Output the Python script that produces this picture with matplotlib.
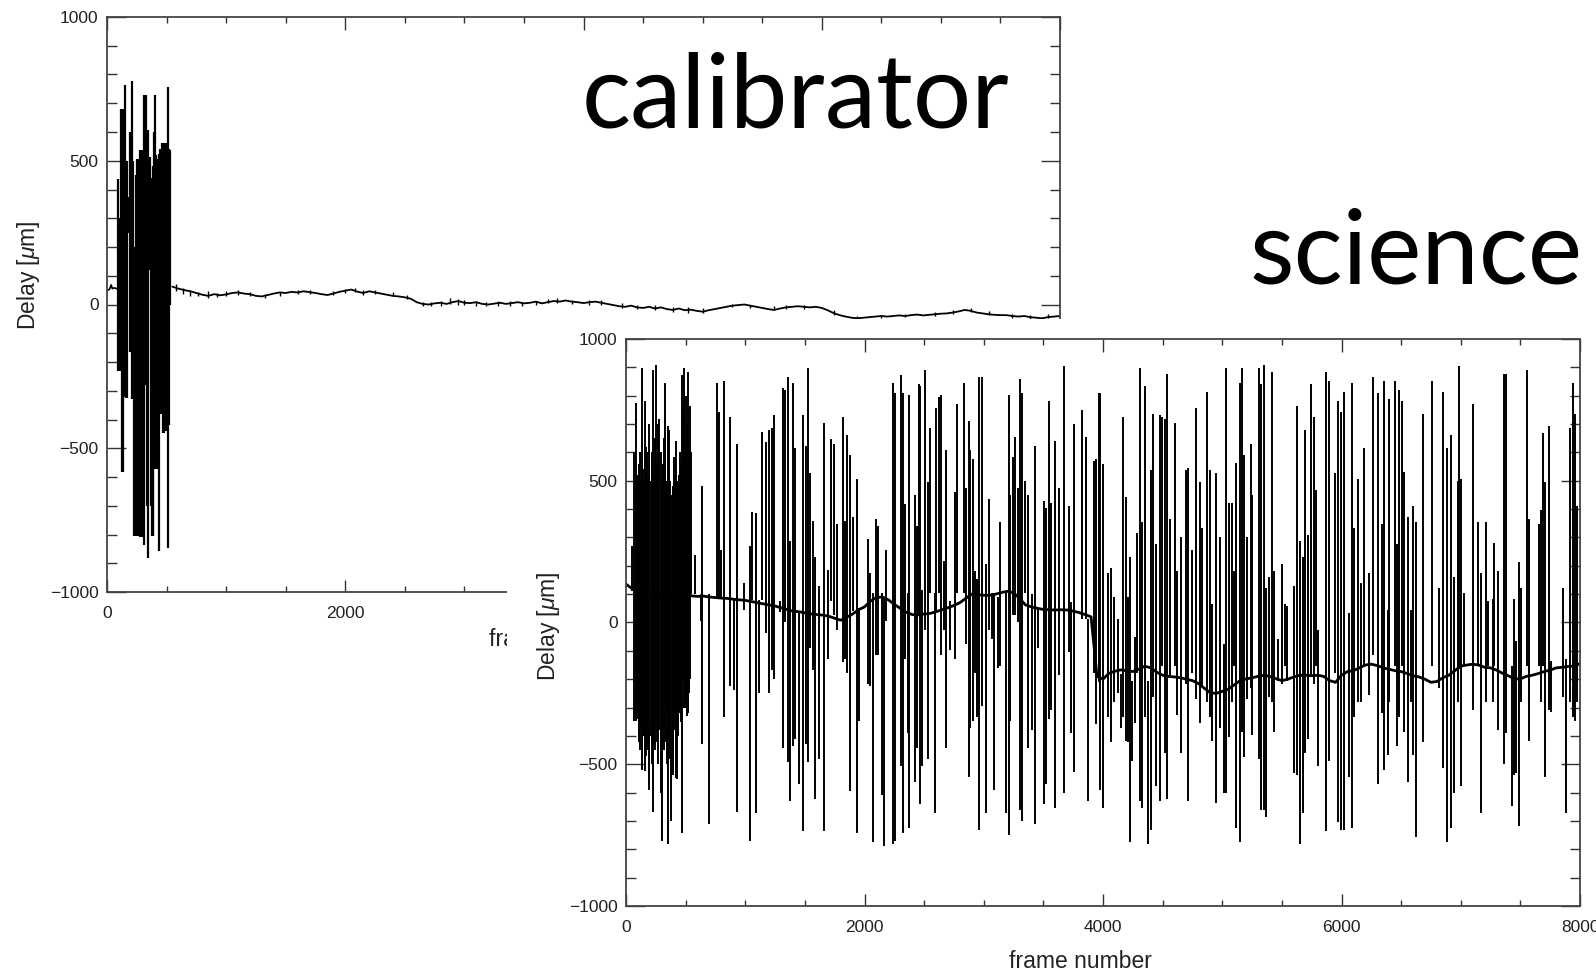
import numpy as np
import matplotlib
matplotlib.use('Agg')
import matplotlib.pyplot as plt
from matplotlib.patches import Rectangle
from matplotlib.ticker import MultipleLocator

plt.rcParams['font.family'] = ['Liberation Sans', 'DejaVu Sans']
plt.rcParams['mathtext.fontset'] = 'custom'
plt.rcParams['mathtext.it'] = 'Liberation Sans:italic'
plt.rcParams['mathtext.rm'] = 'Liberation Sans'

# ---------------- calibrator data ----------------
calib_head_frames = [0, 20, 35, 45, 60, 80, 95]
calib_head_vals = [50, 52, 68, 55, 58, 55, 57]

# burst of fringe-search jumps: (frame, top, bottom)
calib_burst = [
    (95, 435, -230), (105, 300, -230), (114, 680, -230), (122, 450, -583),
    (131, 680, -583), (141, 500, -320), (151, 764, -320), (158, 500, -325),
    (165, 500, -325), (176, 375, 250), (187, 375, 250), (197, 600, -164),
    (207, 776, -164), (214, 500, -330), (221, 500, -330), (228, 200, -805),
    (235, -380, -805), (242, 450, -805), (249, 507, -805), (260, 300, -300),
    (271, 507, -805), (281, 537, -810), (291, 537, -810), (300, 450, -600),
    (310, 728, -835), (318, 600, -280), (327, 728, -280), (337, 550, -700),
    (347, 608, -883), (354, 513, 120), (361, 513, 120), (368, 440, -700),
    (375, 440, -805), (382, 480, -805), (389, 440, -805), (396, 600, -571),
    (403, 728, -571), (410, 520, -571), (417, 507, -571), (424, 400, -500),
    (430, 300, -500), (439, 525, -859), (449, 540, -380), (459, 561, -380),
    (468, 561, -446), (478, 561, -446), (486, 561, -440), (495, 561, -440),
    (505, 560, -440), (515, 758, -847), (522, 540, -420), (529, 537, -2),
]

calib_tail_frames = np.arange(550, 8001, 50)
calib_tail_vals = [
    62, 55, 50, 46, 40, 34, 30, 36, 32, 35,
    40, 42, 38, 36, 30, 28, 33, 38, 42, 40,
    44, 42, 46, 43, 40, 36, 33, 38, 44, 48,
    52, 45, 40, 46, 42, 38, 34, 30, 28, 25,
    20, 8, 2, 0, 4, 6, 2, 8, 12, 6,
    5, 8, 2, 0, 3, 6, 2, 5, 8, 4,
    6, 10, 4, 8, 12, 10, 14, 10, 8, 5,
    8, 10, 6, 2, -2, -6, -8, -4, -10, -12,
    -8, -14, -10, -16, -19, -14, -20, -18, -22, -25,
    -20, -16, -12, -8, -4, -2, 0, -4, -8, -12,
    -16, -19, -14, -10, -8, -6, -8, -10, -8, -12,
    -20, -30, -37, -42, -46, -48, -46, -44, -42, -40,
    -42, -40, -38, -40, -37, -35, -38, -36, -34, -32,
    -31, -28, -24, -19, -22, -28, -31, -34, -36, -37,
    -37, -40, -42, -40, -44, -46, -48, -44, -42, -40,
]

# small frame-to-frame jitter on the calibrator track: (frame, top, bottom)
calib_jitter = [
    (580, 72, 48), (640, 58, 38), (700, 50, 30), (760, 44, 28), (850, 46, 24),
    (920, 40, 27), (1000, 46, 30), (1100, 50, 34), (1200, 45, 30), (1330, 36, 24),
    (1450, 42, 28), (1600, 50, 36), (1700, 52, 38), (1900, 46, 32), (2000, 55, 40),
    (2080, 58, 42), (2150, 50, 34), (2250, 52, 37), (2400, 42, 28), (2520, 32, 20),
    (2650, 8, -6), (2720, 10, -4), (2800, 12, -4), (2880, 22, 2), (2950, 18, 0),
    (3000, 15, -2), (3100, 12, -6), (3180, 10, -4), (3280, 12, -6), (3380, 12, -4),
    (3480, 10, -6), (3600, 12, 0), (3700, 20, 4), (3780, 22, 6), (3900, 15, 2),
    (4050, 15, 0), (4150, 14, -2), (4320, 4, -12), (4450, 0, -16), (4600, -2, -18),
    (4750, -8, -26), (4880, -10, -28), (5000, -12, -30), (5250, 2, -10), (5400, 0, -12),
    (5600, -4, -18), (5700, -2, -14), (5850, 0, -16), (6100, -18, -38), (6300, -40, -54),
    (6500, -36, -48), (6700, -32, -45), (6950, -27, -40), (7100, -18, -33), (7250, -12, -26),
    (7400, -22, -38), (7600, -32, -46), (7750, -35, -50), (7900, -32, -48),
]

# ---------------- science data ----------------
sci_base_frames = np.arange(0, 8001, 50)
sci_base_vals = [
    135, 120, 112, 108, 104, 100, 98, 97, 95, 96, 96,
    94, 92, 93, 90, 88, 86, 85, 82, 80, 78,
    74, 70, 66, 62, 58, 52, 46, 40, 38, 34,
    30, 28, 26, 22, 15, 8, 18, 30, 45, 55,
    75, 88, 90, 80, 64, 50, 36, 28, 27, 30,
    32, 38, 45, 52, 60, 70, 85, 100, 98, 96,
    96, 100, 106, 110, 105, 85, 62, 55, 50, 46,
    45, 44, 45, 44, 40, 35, 28, 20, -190, -200,
    -179, -172, -167, -170, -173, -165, -154, -160, -175, -186,
    -190, -192, -195, -200, -205, -215, -232, -248, -250, -243,
    -235, -220, -205, -199, -195, -190, -186, -190, -198, -205,
    -200, -192, -186, -186, -188, -186, -190, -205, -211, -186,
    -173, -170, -160, -150, -147, -152, -160, -165, -170, -173,
    -180, -188, -192, -200, -211, -208, -195, -186, -170, -154,
    -150, -147, -150, -158, -160, -168, -179, -188, -199, -199,
    -190, -186, -180, -173, -168, -160, -158, -155, -154, -145,
]

# glitches: (frame, top, bottom)
sci_spikes = [
    (48, 269, 110), (70, 600, -346), (80, 776, -346), (90, 520, -300),
    (100, 513, -340), (108, 560, -420), (115, 600, -450), (124, 500, -380),
    (132, 897, -520), (141, 540, -400), (150, 500, -400), (160, 782, -525),
    (170, 620, -470), (180, 600, -420), (188, 520, -450), (196, 700, -590),
    (206, 500, -400), (215, 560, -500), (222, 600, -430), (230, 891, -667),
    (238, 520, -420), (245, 650, -450), (252, 908, -350), (258, 560, -420),
    (265, 700, -500), (272, 540, -420), (280, 718, -380), (290, 600, -600),
    (300, 500, -769), (308, 560, -420), (315, 650, -450), (322, 520, -380),
    (328, 846, -300), (334, 500, -420), (340, 500, -500), (350, 692, -782),
    (357, 520, -400), (364, 680, -400), (372, 500, -480), (380, 450, -700),
    (390, 480, -450), (398, 462, -538), (404, 585, -300), (412, 500, -380),
    (420, 641, -550), (426, 500, -551), (433, 480, -400), (440, 400, -350),
    (448, 520, -320), (455, 600, -300), (462, 560, -350), (468, 872, -743),
    (478, 750, -200), (488, 897, -300), (494, 650, -280), (500, 800, -250),
    (506, 620, -300), (512, 700, -330), (518, 640, -300), (524, 885, -320),
    (531, 600, -250), (538, 762, -200), (548, 600, 100),
    (580, 237, 100), (628, 100, 6), (636, 481, -429), (692, 100, -711),
    (762, 846, 90), (784, 744, 90), (800, 256, 90), (824, 853, -333),
    (874, 724, -224), (908, 85, -237), (930, 628, -667), (986, 141, 45),
    (1042, 269, -769), (1056, 391, 80), (1092, 385, -673), (1112, 80, -250),
    (1140, 673, 80), (1176, 635, -38), (1196, 679, -250), (1224, 686, -167),
    (1244, 731, -199), (1288, 75, 38), (1316, 827, -442), (1336, 821, 0),
    (1356, 865, -493), (1378, 288, -628), (1400, 846, -436), (1420, 615, -410),
    (1448, 40, -570), (1484, 731, -737), (1507, 622, -430), (1524, 897, -493),
    (1546, 526, -90), (1568, 359, -167), (1588, 231, -622), (1616, 128, -481),
    (1658, 705, -737), (1692, 186, -128), (1720, 647, 77), (1742, 628, 26),
    (1770, 346, -26), (1820, 724, -141), (1840, 359, -128), (1854, 660, -179),
    (1882, 590, -596), (1904, 372, 40), (1938, 506, -744), (1952, 50, -346),
    (2028, 295, -218), (2048, 173, -224), (2068, 103, -776), (2096, 365, -115),
    (2112, 340, -115), (2146, 103, -609), (2160, 90, -788), (2180, 256, 6),
    (2236, 846, -782), (2252, 808, -769), (2306, 872, -506), (2320, 808, -744),
    (2342, 417, -128), (2364, 103, -391), (2376, 801, -724), (2420, 449, -564),
    (2440, 340, -442), (2454, 840, 26), (2468, 833, -641), (2482, 115, -506),
    (2510, 891, -26), (2532, 494, -481), (2552, 686, 103), (2588, 103, -673),
    (2600, 756, 38), (2622, 795, 103), (2644, 801, -115), (2664, 218, -26),
    (2684, 609, -442), (2720, 77, -96), (2762, 462, -128), (2776, 769, 103),
    (2832, 846, 103), (2852, 474, -77), (2874, 712, -545), (2888, 609, -372),
    (2908, 577, -346), (2930, 180, -179), (2944, 154, -333), (2964, 865, -731),
    (2986, 865, -295), (3020, 205, -673), (3042, 436, -26), (3070, 103, -58),
    (3084, 103, -590), (3120, 90, -160), (3140, 353, -154), (3188, 103, -673),
    (3210, 801, -750), (3224, 449, -346), (3244, 583, 26), (3266, 654, 26),
    (3288, 474, 0), (3300, 859, -660), (3322, 808, -699), (3350, 500, 103),
    (3372, 449, -442), (3406, 100, -378), (3428, 622, -711), (3456, 51, -90),
    (3504, 430, -641), (3524, 404, -570), (3546, 782, -340), (3560, 423, -308),
    (3596, 641, -654), (3630, 474, -186), (3672, 904, -602), (3714, 410, -103),
    (3728, 71, -391), (3756, 699, -526), (3826, 750, 13), (3854, 654, 13),
    (3876, 13, -628), (3924, 571, -179), (3938, 577, -359), (3966, 808, -211),
    (3979, 808, -590), (3999, 558, -654), (4043, 173, -333), (4063, 192, -423),
    (4091, 90, -282), (4127, 13, -250), (4155, -180, -372), (4167, 724, -333),
    (4189, 442, -417), (4209, 90, -423), (4225, 231, -776), (4245, -205, -487),
    (4267, -51, -353), (4287, 314, -179), (4307, 897, -628), (4329, 353, -654),
    (4351, 833, -333), (4379, -205, -782), (4399, 538, -731), (4419, 737, -263),
    (4447, 276, -577), (4475, 731, -628), (4497, 724, -154), (4519, 718, -462),
    (4539, 878, -622), (4559, 365, -192), (4603, 705, -154), (4623, 180, -327),
    (4651, 301, -462), (4693, 538, -218), (4715, 545, -628), (4743, 256, -179),
    (4777, 756, -269), (4811, 494, -353), (4833, 333, -224), (4869, 814, -282),
    (4895, 538, -333), (4917, 64, -417), (4951, 526, -635), (4979, 301, -372),
    (5015, -77, -603), (5029, 897, -603), (5057, 423, -404), (5079, 423, -282),
    (5099, 180, -154), (5119, 564, -724), (5147, 846, -776), (5169, 897, -385),
    (5183, 590, -474), (5211, 301, -269), (5239, 628, -231), (5253, 449, -397),
    (5309, 897, -481), (5323, 840, -660), (5351, 910, -660), (5371, 122, -686),
    (5393, 160, -263), (5415, 885, -282), (5435, 180, -385), (5471, -58, -205),
    (5499, 205, -218), (5527, 64, -154), (5547, 58, -205), (5603, 128, -532),
    (5631, 763, -538), (5651, 288, -782), (5673, 231, -673), (5695, 679, -462),
    (5723, 308, -410), (5743, 840, -192), (5771, 724, -218), (5785, 468, -154),
    (5807, -26, -506), (5869, 885, -737), (5891, 853, -487), (5947, 526, -179),
    (5967, 782, -705), (5994, 744, -731), (6022, 814, -731), (6064, 32, -545),
    (6086, 846, -724), (6106, 333, -333), (6142, 506, -282), (6162, 141, -282),
    (6190, 615, -154), (6232, 173, -256), (6260, 865, -115), (6310, 808, -570),
    (6338, 346, -320), (6358, 853, -519), (6386, 45, -468), (6400, 788, -282),
    (6450, 853, -154), (6464, 276, -436), (6484, 821, -333), (6506, 782, -154),
    (6526, 532, -385), (6554, 372, -564), (6582, 45, -282), (6602, 410, -468),
    (6624, 353, -756), (6686, 737, -423), (6758, 853, -154), (6820, 122, -231),
    (6848, 814, -513), (6884, 615, -776), (6918, 660, -724), (6946, 160, -603),
    (6974, 500, -282), (6988, 904, -154), (7002, 506, -577), (7030, 103, -154),
    (7100, 769, -308), (7142, 353, -154), (7170, 173, -673), (7212, 353, -282),
    (7226, 77, -154), (7268, 83, -282), (7282, 282, -154), (7310, 180, -378),
    (7366, 878, -500), (7380, 878, -391), (7430, -154, -647), (7450, 83, -538),
    (7464, -64, -532), (7486, 212, -718), (7506, 122, -282), (7554, 891, -154),
    (7570, 365, -417), (7660, 346, -154), (7674, 397, -282), (7688, 667, -154),
    (7710, 494, -545), (7738, 692, -308), (7758, -135, -314), (7856, 122, -263),
    (7884, -128, -673), (7912, 686, -282), (7940, 846, -333), (7954, 737, -346),
    (7974, 410, -282),
]

x_major = [0, 2000, 4000, 6000, 8000]
y_major = [-1000, -500, 0, 500, 1000]

W, H = 1596, 973
SHEET_LEFT, SHEET_TOP = 507, 319


def px_rect(l, t, r, b):
    return [l / W, 1 - b / H, (r - l) / W, (b - t) / H]


def style(ax):
    ax.set_xlim(0, 8000)
    ax.set_ylim(-1000, 1000)
    ax.set_xticks(x_major)
    ax.set_yticks(y_major)
    ax.xaxis.set_minor_locator(MultipleLocator(500))
    ax.yaxis.set_minor_locator(MultipleLocator(100))
    ax.tick_params(axis='both', which='both', direction='in', top=True, right=True,
                   colors='#333333', labelcolor='#222222', labelsize=12.5, width=1.0)
    ax.tick_params(axis='x', which='major', length=9, pad=10)
    ax.tick_params(axis='x', which='minor', length=4.5)
    ax.tick_params(axis='y', which='major', length=13.5, pad=6)
    ax.tick_params(axis='y', which='minor', length=7)
    for s in ax.spines.values():
        s.set_linewidth(1.3)
        s.set_color('#444444')


fig = plt.figure(figsize=(W / 100, H / 100), dpi=100)
lc = 'black'

# calibrator panel
ax1 = fig.add_axes(px_rect(107, 17, 1060, 592))
ax1.set_zorder(0)
style(ax1)
ax1.plot(calib_head_frames, calib_head_vals, color=lc, lw=1.2)
bf, bt, bb = zip(*calib_burst)
ax1.vlines(bf, bb, bt, color=lc, lw=1.6)
ax1.plot(calib_tail_frames, calib_tail_vals, color=lc, lw=1.3)
jf, jt, jb = zip(*calib_jitter)
ax1.vlines(jf, jb, jt, color=lc, lw=1.0)
fig.text(28.5 / W, 1 - 275 / H, 'Delay [$\\mu$m]', rotation=90, ha='center', va='center',
         fontsize=16.5, color='#222222', zorder=0.5)
# x label of the calibrator: mostly hidden under the science sheet
visible = Rectangle((0, 0), SHEET_LEFT / W, 1, transform=fig.transFigure,
                    facecolor='none', edgecolor='none')
calib_xlabel = fig.text(560 / W, 1 - 639 / H, 'frame number', ha='center', va='center',
                        fontsize=16.5, color='#222222', zorder=0.5)
calib_xlabel.set_clip_path(visible)

# white sheet of the science plot lying over the calibrator
cover = Rectangle((SHEET_LEFT / W, 0), 1 - SHEET_LEFT / W, 1 - SHEET_TOP / H,
                  transform=fig.transFigure, facecolor='white', edgecolor='none', zorder=1)
fig.add_artist(cover)

# science panel
ax2 = fig.add_axes(px_rect(626, 339, 1580, 906))
ax2.set_zorder(2)
style(ax2)
sf, st, sb = zip(*sci_spikes)
ax2.vlines(sf, sb, st, color=lc, lw=1.4)
ax2.plot(sci_base_frames, sci_base_vals, color=lc, lw=2.0)
fig.text(548 / W, 1 - 626 / H, 'Delay [$\\mu$m]', rotation=90, ha='center', va='center',
         fontsize=16.5, color='#222222', zorder=3)
fig.text(1080 / W, 1 - 962 / H, 'frame number', ha='center', va='center',
         fontsize=16.5, color='#222222', zorder=3)

# slide titles
fig.text(582 / W, 1 - 128 / H, 'calibrator', ha='left', va='baseline',
         fontsize=74, family='Lato', color='black', zorder=3)
fig.text(1250 / W, 1 - 284 / H, 'science', ha='left', va='baseline',
         fontsize=74, family='Lato', color='black', zorder=3)

fig.savefig('out.png', dpi=100)
